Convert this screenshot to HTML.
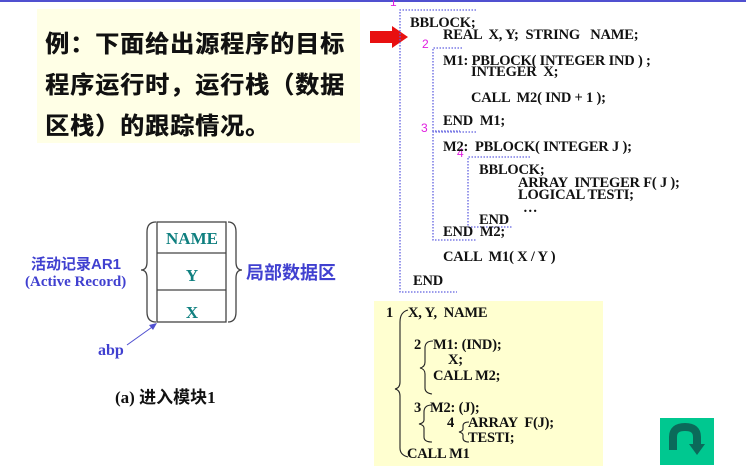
<!DOCTYPE html>
<html><head><meta charset="utf-8"><style>
body{margin:0;width:746px;height:466px;background:#fff;position:relative;overflow:hidden;font-family:"Liberation Serif","Noto Serif CJK SC",serif}
.a{position:absolute;white-space:nowrap}
.c{position:absolute;white-space:nowrap;font-weight:bold;font-size:14.5px;line-height:13px;color:#111;letter-spacing:-0.2px}
.m{position:absolute;color:#e020e0;font-size:12px;line-height:12px;font-family:"Liberation Sans",sans-serif}
.cn{font-family:"Liberation Sans","Noto Sans CJK SC",sans-serif;font-weight:bold}
</style></head><body>
<div class="a" style="left:0;top:0;width:746px;height:2px;background:#5050d0"></div>
<div class="a" style="left:37px;top:9px;width:323px;height:134px;background:#ffffe6"></div>
<div class="a cn" style="left:45px;top:24px;font-size:24px;line-height:41px;color:#111;letter-spacing:1px;text-shadow:0.5px 0 0 #111">例：下面给出源程序的目标<br>程序运行时，运行栈（数据<br>区栈）的跟踪情况。</div>
<svg class="a" style="left:0;top:0" width="746" height="466">
<polygon points="370,31 392,31 392,26 408,37 392,48 392,43 370,43" fill="#e81010"/>
<g stroke="#6060e0" stroke-width="1.3" stroke-dasharray="1.5,1.5" fill="none">
<polyline points="476,10 400,10 400,292 457,292"/>
<polyline points="462,48 433,48 433,131 460,131"/>
<polyline points="476,132 433,132 433,240 476,240"/>
<polyline points="530,157 468,157 468,227 512,227"/>
</g>
<g stroke="#444" stroke-width="1.3" fill="none">
<rect x="157" y="222" width="69" height="100"/>
<line x1="157" y1="253" x2="226" y2="253"/><line x1="157" y1="290" x2="226" y2="290"/>
<path d="M156,222 Q147,222 147,232 L147,262 Q147,270 141,270 Q147,270 147,278 L147,312 Q147,322 156,322"/>
<path d="M228,222 Q236,222 236,232 L236,262 Q236,270 242,270 Q236,270 236,278 L236,312 Q236,322 228,322"/>
</g>
<line x1="127" y1="345" x2="155" y2="325" stroke="#5050d0" stroke-width="1"/>
<polygon points="157,323 149,325 153,330" fill="#5050d0"/>
<rect x="374" y="301" width="229" height="165" fill="#ffffd0"/>
<g stroke="#222" stroke-width="1.1" fill="none">
<path d="M408,310 Q400,312 400,322 L400,382 Q400,388 395,389 Q400,390 400,396 L400,448 Q400,455 408,457"/>
<path d="M433,341 Q425,341 425,348 L425,362 Q425,367 420,368 Q425,369 425,374 L425,388 Q425,393 432,394"/>
<path d="M432,405 Q424,405 424,412 L424,420 Q424,423 419,424 Q424,425 424,428 L424,437 Q424,442 432,442"/>
<path d="M469,422 Q463,422 463,426 L463,429 Q463,431 459,432 Q463,433 463,435 L463,438 Q463,442 469,442"/>
</g>
<rect x="660" y="418" width="54" height="47" fill="#00c890"/>
<path d="M673,450 L673,437 Q673,427 685,427 Q697,427 697,437 L697,445" stroke="#0b6a5a" stroke-width="8" fill="none"/>
<polygon points="689,444 705,444 697,455" fill="#0b6a5a"/>
</svg>
<div class="m" style="left:390px;top:-4px">1</div>
<div class="m" style="left:422px;top:38px">2</div>
<div class="m" style="left:421px;top:122px">3</div>
<div class="m" style="left:457px;top:147px">4</div>
<div class="c" style="left:410px;top:17px">BBLOCK;</div>
<div class="c" style="left:443px;top:29px">REAL &nbsp;X, Y; &nbsp;STRING &nbsp; NAME;</div>
<div class="c" style="left:443px;top:55px">M1: PBLOCK( INTEGER IND ) ;</div>
<div class="c" style="left:471px;top:66px">INTEGER &nbsp;X;</div>
<div class="c" style="left:471px;top:92px">CALL &nbsp;M2( IND + 1 );</div>
<div class="c" style="left:443px;top:115px">END &nbsp;M1;</div>
<div class="c" style="left:443px;top:141px">M2: &nbsp;PBLOCK( INTEGER J );</div>
<div class="c" style="left:479px;top:164px">BBLOCK;</div>
<div class="c" style="left:518px;top:177px">ARRAY &nbsp;INTEGER F( J );</div>
<div class="c" style="left:518px;top:189px">LOGICAL TESTI;</div>
<div class="c" style="left:523px;top:202px">…</div>
<div class="c" style="left:479px;top:214px">END</div>
<div class="c" style="left:443px;top:226px">END &nbsp;M2;</div>
<div class="c" style="left:443px;top:251px">CALL &nbsp;M1( X / Y )</div>
<div class="c" style="left:413px;top:275px">END</div>
<div class="c" style="left:386px;top:307px">1</div>
<div class="c" style="left:408px;top:307px">X, Y, &nbsp;NAME</div>
<div class="c" style="left:414px;top:339px">2</div>
<div class="c" style="left:433px;top:339px">M1: (IND);</div>
<div class="c" style="left:448px;top:354px">X;</div>
<div class="c" style="left:433px;top:370px">CALL M2;</div>
<div class="c" style="left:414px;top:402px">3</div>
<div class="c" style="left:430px;top:402px">M2: (J);</div>
<div class="c" style="left:447px;top:417px">4</div>
<div class="c" style="left:468px;top:417px">ARRAY &nbsp;F(J);</div>
<div class="c" style="left:468px;top:432px">TESTI;</div>
<div class="c" style="left:407px;top:448px">CALL M1</div>
<div class="a" style="left:157px;top:229px;width:70px;text-align:center;font-weight:bold;font-size:17px;color:#108080">NAME</div>
<div class="a" style="left:157px;top:266px;width:70px;text-align:center;font-weight:bold;font-size:17px;color:#108080">Y</div>
<div class="a" style="left:157px;top:303px;width:70px;text-align:center;font-weight:bold;font-size:17px;color:#108080">X</div>
<div class="a cn" style="left:31px;top:253px;font-size:15px;color:#4040d0">活动记录AR1</div>
<div class="a" style="left:25px;top:274px;font-size:15px;font-weight:bold;color:#4040d0">(Active Record)</div>
<div class="a cn" style="left:246px;top:259px;font-size:18px;color:#4040d0">局部数据区</div>
<div class="a" style="left:98px;top:342px;font-size:16px;font-weight:bold;color:#4040d0">abp</div>
<div class="a cn" style="left:115px;top:383px;font-size:17px;color:#111;font-family:'Liberation Serif','Noto Sans CJK SC',sans-serif">(a) 进入模块1</div>
</body></html>
